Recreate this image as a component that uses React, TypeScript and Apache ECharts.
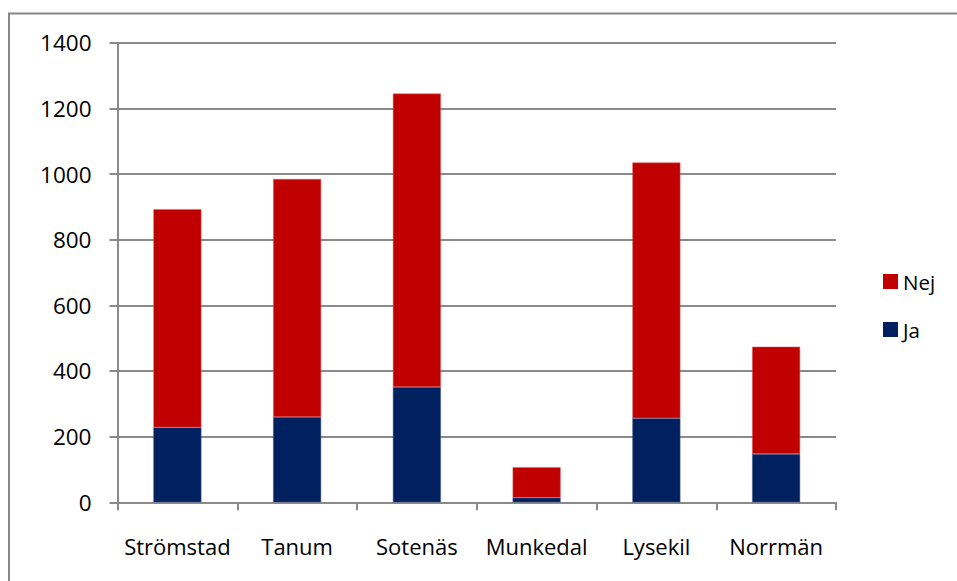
import React, { useEffect, useRef } from "react";
import * as echarts from "echarts";

const categories = ["Strömstad", "Tanum", "Sotenäs", "Munkedal", "Lysekil", "Norrmän"];
const jaValues = [228, 260, 351, 14, 256, 147];
const nejValues = [665, 725, 894, 93, 779, 327];

const FONT = "'Open Sans', 'Noto Sans', sans-serif";
const GRAY = "#8a8a8a";

export default function App() {
  const ref = useRef<HTMLDivElement>(null);
  useEffect(() => {
    if (!ref.current) return;
    const chart = echarts.init(ref.current, undefined, { renderer: "svg" });
    chart.setOption({
      animation: false,
      backgroundColor: "#ffffff",
      textStyle: { fontFamily: FONT },
      graphic: [
        {
          type: "rect",
          shape: { x: 9, y: 13.5, width: 1500, height: 1000 },
          style: { fill: "none", stroke: "#878787", lineWidth: 2 },
          silent: true,
        },
      ],
      grid: { left: 117.5, right: 121, top: 42.7, bottom: 78.7, containLabel: false },
      legend: {
        orient: "vertical",
        left: 878,
        top: 266,
        itemWidth: 15,
        itemHeight: 15,
        itemGap: 27,
        icon: "rect",
        data: ["Nej", "Ja"],
        itemStyle: { borderWidth: 0 },
        textStyle: { fontSize: 20.5, lineHeight: 21, color: "#000", fontFamily: FONT, padding: [0, 0, 0, 0] },
      },
      xAxis: {
        type: "category",
        data: categories,
        boundaryGap: true,
        axisLine: { lineStyle: { color: GRAY, width: 2 } },
        axisTick: { show: true, length: 8, alignWithLabel: false, lineStyle: { color: GRAY, width: 2 } },
        axisLabel: { fontSize: 22, color: "#000", margin: 33, fontFamily: FONT, interval: 0 },
      },
      yAxis: {
        type: "value",
        min: 0,
        max: 1400,
        interval: 200,
        axisLine: { show: true, lineStyle: { color: GRAY, width: 2 } },
        axisTick: { show: true, length: 8, lineStyle: { color: GRAY, width: 2 } },
        axisLabel: {
          fontSize: 22.5,
          color: "#000",
          margin: 26,
          fontFamily: FONT,
          formatter: (v: number) => String(v),
        },
        splitLine: { show: true, lineStyle: { color: GRAY, width: 2 } },
      },
      series: [
        {
          name: "Ja",
          type: "bar",
          stack: "total",
          data: jaValues,
          barWidth: 48,
          itemStyle: { color: "#002060", borderColor: "#4a5f8f", borderWidth: 0.5 },
        },
        {
          name: "Nej",
          type: "bar",
          stack: "total",
          data: nejValues,
          barWidth: 48,
          itemStyle: { color: "#C00000", borderColor: "#e06060", borderWidth: 0.5 },
        },
      ],
    });
    return () => chart.dispose();
  }, []);
  return (
    <div
      ref={ref}
      style={{ position: "fixed", left: 0, top: 0, width: 957, height: 581 }}
    />
  );
}
